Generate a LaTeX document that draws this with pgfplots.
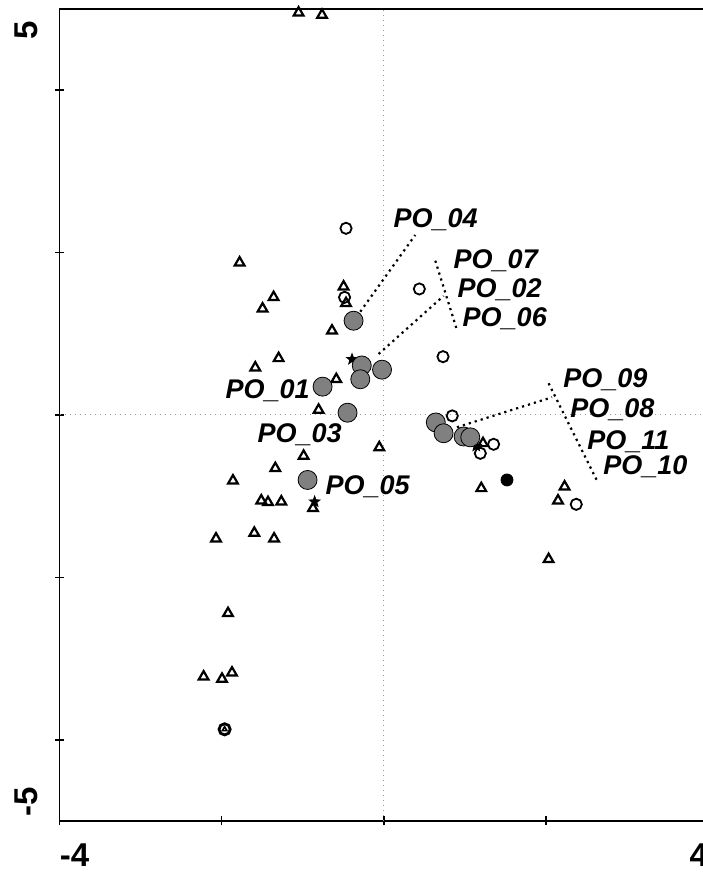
\documentclass[border=0pt]{standalone}
\usepackage{fontspec}
\setmainfont{Liberation Sans}
\usepackage{pgfplots}
\pgfplotsset{compat=1.18}
\usetikzlibrary{plotmarks}
\pgfdeclareplotmark{fstar}{%
 \pgfpathmoveto{\pgfpointpolar{90}{\pgfplotmarksize}}%
 \pgfpathlineto{\pgfpointpolar{126}{0.42\pgfplotmarksize}}%
 \pgfpathlineto{\pgfpointpolar{162}{\pgfplotmarksize}}%
 \pgfpathlineto{\pgfpointpolar{198}{0.42\pgfplotmarksize}}%
 \pgfpathlineto{\pgfpointpolar{234}{\pgfplotmarksize}}%
 \pgfpathlineto{\pgfpointpolar{270}{0.42\pgfplotmarksize}}%
 \pgfpathlineto{\pgfpointpolar{306}{\pgfplotmarksize}}%
 \pgfpathlineto{\pgfpointpolar{342}{0.42\pgfplotmarksize}}%
 \pgfpathlineto{\pgfpointpolar{18}{\pgfplotmarksize}}%
 \pgfpathlineto{\pgfpointpolar{54}{0.42\pgfplotmarksize}}%
 \pgfpathclose\pgfusepathqfill}
\definecolor{pogray}{RGB}{128,128,128}
\pgfplotstableread{
x y
-1.052 4.954
-0.763 4.926
-1.779 1.876
-0.497 1.580
-0.467 1.376
-1.360 1.450
-1.496 1.309
-0.640 1.038
-1.298 0.698
-1.586 0.583
-0.587 0.440
-0.805 0.062
-0.057 -0.400
-0.990 -0.505
-1.339 -0.656
-1.861 -0.809
-1.512 -1.055
-1.429 -1.075
-1.265 -1.068
-0.874 -1.149
-2.070 -1.523
-1.598 -1.453
-1.354 -1.523
-1.922 -2.442
-2.223 -3.223
-1.996 -3.251
-1.873 -3.174
1.222 -0.349
1.201 -0.903
2.228 -0.883
2.147 -1.055
2.031 -1.777
}\triangles
\pgfplotstableread{
x y
-0.467 2.299
-0.485 1.449
0.437 1.552
0.729 0.718
0.843 -0.011
1.353 -0.361
1.189 -0.472
2.372 -1.100
}\circles
\pgfplotstableread{
x y
-0.374 1.161
-0.273 0.610
-0.291 0.440
-0.023 0.558
-0.756 0.349
-0.448 0.028
0.640 -0.092
0.736 -0.225
0.983 -0.265
1.065 -0.275
-0.941 -0.800
}\pos
\pgfplotstableread{
x y
-0.854 -1.068
-0.393 0.686
1.139 -0.382
}\stars
\begin{document}
\begin{tikzpicture}
\path[use as bounding box] (-29.75pt,-25.5pt) rectangle (321.25pt,410.5pt);
\begin{axis}[
 scale only axis, width=324.4pt, height=406pt,
 xmin=-4, xmax=4, ymin=-5, ymax=5,
 xtick={-4,-2,0,2,4}, ytick={-4,-2,0,2,4},
 xticklabels={,,,,}, yticklabels={,,,,},
 tick align=center, major tick length=4.5pt,
 xtick pos=bottom, ytick pos=left,
 axis line style={line width=0.9pt},
 every tick/.style={black, line width=0.8pt},
 clip=false,
]
\draw[gray!80, dotted, line width=0.5pt] (axis cs:0,-5) -- (axis cs:0,5);
\draw[gray!80, dotted, line width=0.5pt] (axis cs:-4,0) -- (axis cs:4,0);
\addplot[only marks, mark=triangle, mark size=2.8pt, mark options={black, line width=1.1pt, fill=white}] table {\triangles};
\addplot[only marks, mark=o, mark size=2.8pt, mark options={black, line width=0.9pt}] table {\circles};
\addplot[only marks, mark=o, mark size=2.8pt, mark options={black, line width=1.4pt}] coordinates {(-1.964,-3.871)};
\addplot[only marks, mark=triangle, mark size=1.3pt, mark options={black, line width=0.8pt}] coordinates {(-1.964,-3.871)};
\addplot[only marks, mark=*, mark size=3pt, mark options={black}] coordinates {(1.518,-0.800)};
\addplot[only marks, mark=fstar, mark size=3.4pt, mark options={black}] table {\stars};
\addplot[only marks, mark=*, mark size=4.75pt, mark options={draw=none, fill=pogray}] table {\pos};
\addplot[black, line width=1.1pt, dotted] coordinates {(-0.291,1.272) (0.387,2.217)};
\addplot[black, line width=1.1pt, dotted] coordinates {(-0.065,0.751) (0.736,1.466)};
\addplot[black, line width=1.1pt, dotted] coordinates {(0.634,1.900) (0.901,1.047)};
\addplot[black, line width=1.1pt, dotted] coordinates {(0.901,-0.151) (2.073,0.218)};
\addplot[black, line width=1.1pt, dotted] coordinates {(2.031,0.390) (2.628,-0.809)};
\begin{scope}[every node/.style={anchor=base west, inner sep=0pt, font=\fontsize{13.5}{14}\selectfont\bfseries\itshape}]
\node at (axis cs:0.116,2.315) {PO\_04};
\node at (axis cs:0.856,1.810) {PO\_07};
\node at (axis cs:0.905,1.453) {PO\_02};
\node at (axis cs:0.967,1.084) {PO\_06};
\node at (axis cs:-1.956,0.197) {PO\_01};
\node at (axis cs:-1.561,-0.333) {PO\_03};
\node at (axis cs:-0.723,-0.985) {PO\_05};
\node at (axis cs:2.207,0.333) {PO\_09};
\node at (axis cs:2.293,-0.037) {PO\_08};
\node at (axis cs:2.503,-0.431) {PO\_11};
\node at (axis cs:2.700,-0.739) {PO\_10};
\end{scope}
\end{axis}
\begin{scope}[every node/.style={inner sep=0pt, font=\fontsize{16.5}{17}\selectfont\bfseries}]
\node[anchor=north west] at (0pt,-11pt) {-4};
\node[anchor=north east] at (324.4pt,-11pt) {4};
\node[rotate=90, anchor=south east] at (-10.75pt,400pt) {5};
\node[rotate=90, anchor=south west] at (-10.75pt,2pt) {-5};
\end{scope}
\end{tikzpicture}
\end{document}
